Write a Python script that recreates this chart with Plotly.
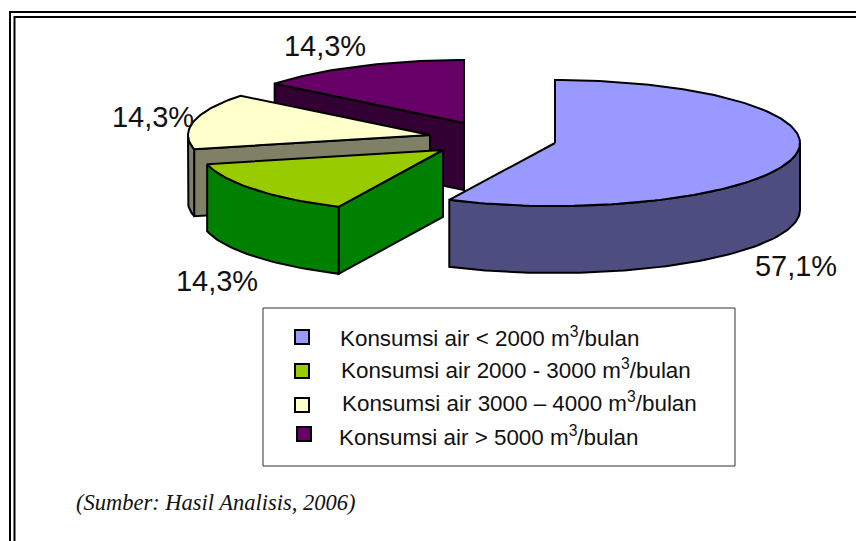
import math
import plotly.graph_objects as go

# ---- data ----
categories = [
    "Konsumsi air < 2000 m<sup>3</sup>/bulan",
    "Konsumsi air 2000 - 3000 m<sup>3</sup>/bulan",
    "Konsumsi air 3000 – 4000 m<sup>3</sup>/bulan",
    "Konsumsi air > 5000 m<sup>3</sup>/bulan",
]
values = [57.1, 14.3, 14.3, 14.3]
value_labels = ["57,1%", "14,3%", "14,3%", "14,3%"]
source_note = "(Sumber: Hasil Analisis, 2006)"

# ---- style ----
top_colors = ["#9999FF", "#99CC00", "#FFFFCC", "#660066"]
side_colors = ["#4D4D80", "#008000", "#808066", "#330033"]

# ---- layout (pixels of the 856x541 page) ----
W, H = 856, 541
RY, DEPTH = 63, 67
slice_rx = [245, 242, 242, 242]
apexes = [(555, 143), (443, 150), (430, 135), (464, 123)]
label_pos = [(796, 269), (217, 284), (153, 120), (325, 49)]
legend_marks = [(302, 337), (302, 371), (302, 405), (304, 434)]
legend_text = [(340, 340.5), (341, 372.5), (342, 405.5), (339, 439.5)]


def rim(cx, cy, rx, a, b, dy=0.0, step=1.5):
    n = max(2, int(abs(b - a) / step))
    xs, ys = [], []
    for i in range(n + 1):
        t = math.radians(a + (b - a) * i / n)
        xs.append(cx + rx * math.sin(t))
        ys.append(cy - RY * math.cos(t) + dy)
    return xs, ys


fig = go.Figure()


def poly(xs, ys, color):
    fig.add_trace(go.Scatter(
        x=xs + xs[:1], y=ys + ys[:1], mode="lines", fill="toself",
        fillcolor=color, line=dict(color="black", width=2),
        hoverinfo="skip", showlegend=False))


def label(x, y, text, family, size, position):
    fig.add_trace(go.Scatter(
        x=[x], y=[y], mode="text", text=[text], textposition=position,
        textfont=dict(family=family, size=size, color="#111111"),
        hoverinfo="skip", showlegend=False))


starts = []
acc = 0.0
total = sum(values)
for v in values:
    starts.append(acc)
    acc += v / total * 360

# paint back-to-front: last slice first
for i in [3, 2, 1, 0]:
    a = starts[i]
    b = a + values[i] / total * 360
    cx, cy = apexes[i]
    rx = slice_rx[i]
    # radial faces that look towards the viewer
    for ang, visible in ((a, math.sin(math.radians(a)) < -1e-6),
                         (b, math.sin(math.radians(b)) > 1e-6)):
        if visible:
            t = math.radians(ang)
            ex, ey = cx + rx * math.sin(t), cy - RY * math.cos(t)
            poly([cx, ex, ex, cx], [cy, ey, ey + DEPTH, cy + DEPTH], side_colors[i])
    # outer wall: front half of the rim only
    lo, hi = max(a, 90), min(b, 270)
    if hi > lo:
        x1, y1 = rim(cx, cy, rx, lo, hi)
        x2, y2 = rim(cx, cy, rx, lo, hi, dy=DEPTH)
        poly(x1 + x2[::-1], y1 + y2[::-1], side_colors[i])
    # top face
    xs, ys = rim(cx, cy, rx, a, b)
    poly([cx] + xs, [cy] + ys, top_colors[i])

# legend swatches
for (mx, my), c in zip(legend_marks, top_colors):
    fig.add_trace(go.Scatter(
        x=[mx], y=[my], mode="markers",
        marker=dict(symbol="square", size=14, color=c, line=dict(color="black", width=2)),
        hoverinfo="skip", showlegend=False))

for (lx, ly), txt in zip(label_pos, value_labels):
    label(lx, ly, txt, "Liberation Sans", 29, "middle center")
for (lx, ly), txt in zip(legend_text, categories):
    label(lx, ly, txt, "Liberation Sans", 22.4, "middle right")
label(76, 504, "<i>" + source_note + "</i>", "Liberation Serif", 22.5, "middle right")

line = dict(color="black", width=2)
shapes = [
    dict(type="path", path=f"M 10 {H} L 10 12 L {W} 12", line=line, layer="above"),
    dict(type="path", path=f"M 14.5 {H} L 14.5 17 L {W} 17", line=line, layer="above"),
    dict(type="rect", x0=263, y0=308, x1=735, y1=466, line=dict(color="#333333", width=1), layer="below"),
]

fig.update_layout(
    width=W, height=H, margin=dict(l=0, r=0, t=0, b=0),
    paper_bgcolor="white", plot_bgcolor="white", showlegend=False,
    xaxis=dict(range=[0, W], visible=False, fixedrange=True),
    yaxis=dict(range=[H, 0], visible=False, fixedrange=True),
    shapes=shapes,
)
fig.write_html("out.html", config=dict(displayModeBar=False),
               post_script="document.body.style.margin='0';document.body.style.overflow='hidden';")
